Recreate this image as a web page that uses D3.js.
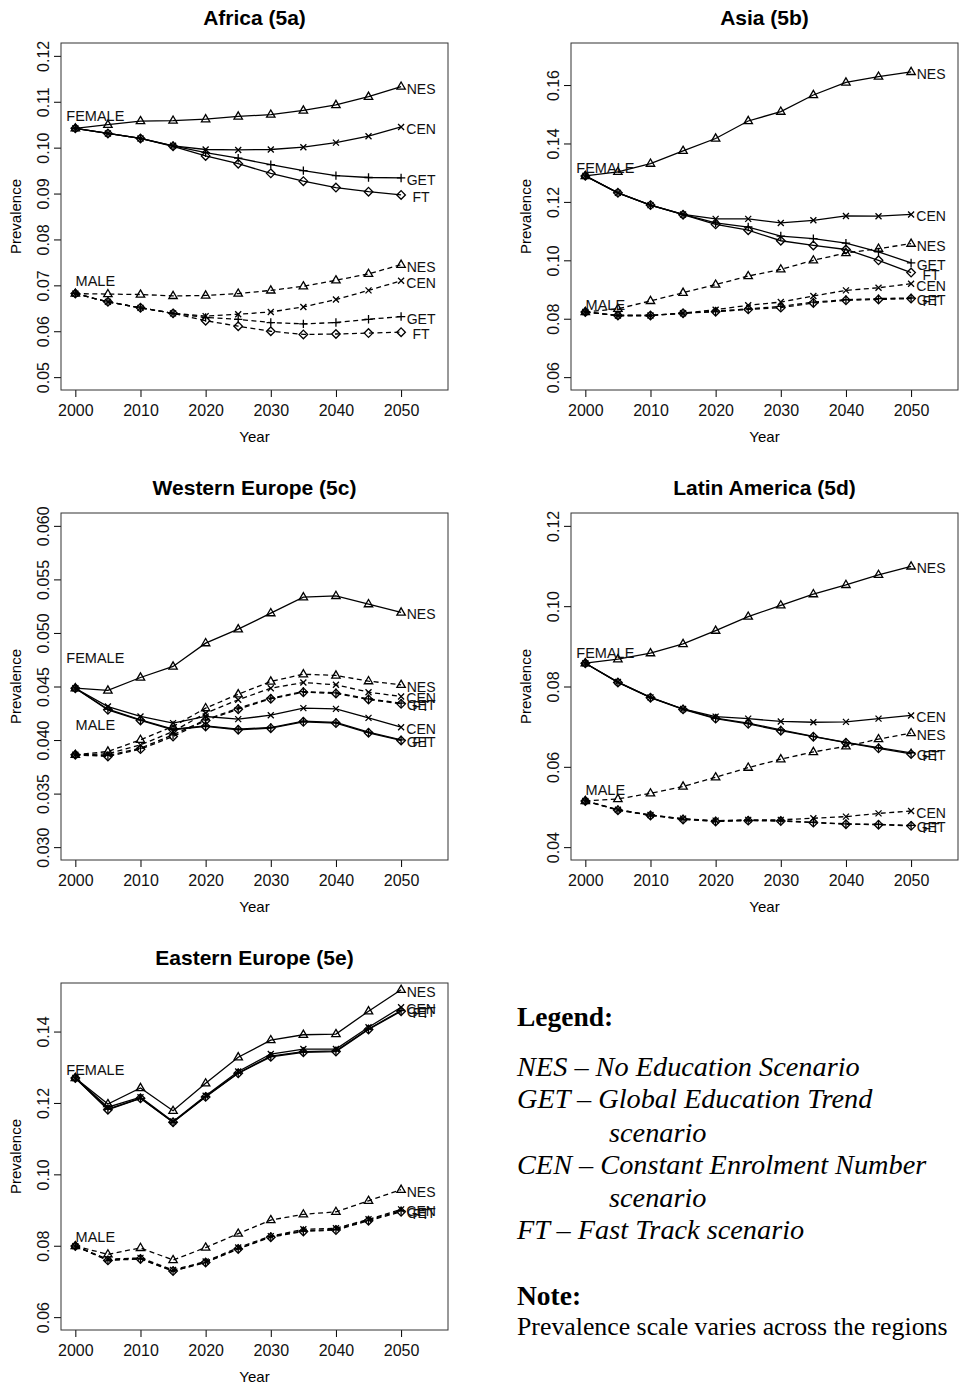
<!DOCTYPE html>
<html>
<head>
<meta charset="utf-8">
<script src="https://cdn.jsdelivr.net/npm/d3@7"></script>
<style>
  body { margin: 0; background: #fff; }
  svg { display: block; }
</style>
</head>
<body>
<div id="chart"></div>
<script>
// years and scenario order (NES, CEN, GET, FT)
const years = [2000, 2005, 2010, 2015, 2020, 2025, 2030, 2035, 2040, 2045, 2050];
const scenarios = ["NES", "CEN", "GET", "FT"];
const xTicks = [2000, 2010, 2020, 2030, 2040, 2050];

// Africa (5a)
const africaFemale = [
  [0.1042, 0.1050, 0.1058, 0.1059, 0.1062, 0.1068, 0.1072, 0.1081, 0.1093, 0.1111, 0.1133],
  [0.1042, 0.1031, 0.1020, 0.1004, 0.0996, 0.0995, 0.0996, 0.1001, 0.1011, 0.1025, 0.1045],
  [0.1042, 0.1031, 0.1020, 0.1004, 0.0989, 0.0977, 0.0963, 0.0950, 0.0939, 0.0935, 0.0934],
  [0.1042, 0.1031, 0.1020, 0.1003, 0.0982, 0.0965, 0.0944, 0.0927, 0.0913, 0.0904, 0.0897]
];
const africaMale = [
  [0.0682, 0.0681, 0.0680, 0.0677, 0.0678, 0.0682, 0.0689, 0.0698, 0.0711, 0.0725, 0.0745],
  [0.0682, 0.0664, 0.0651, 0.0639, 0.0633, 0.0637, 0.0642, 0.0653, 0.0669, 0.0689, 0.0710],
  [0.0682, 0.0664, 0.0651, 0.0639, 0.0630, 0.0626, 0.0619, 0.0616, 0.0619, 0.0626, 0.0632],
  [0.0682, 0.0664, 0.0651, 0.0639, 0.0623, 0.0611, 0.0600, 0.0593, 0.0594, 0.0596, 0.0598]
];
const africaTicks = [0.05, 0.06, 0.07, 0.08, 0.09, 0.10, 0.11, 0.12];
const africaLim = [0.05, 0.12];
const africaTags = [0.1069, 0.0709];

// Asia (5b)
const asiaFemale = [
  [0.1289, 0.1303, 0.1331, 0.1375, 0.1417, 0.1477, 0.1509, 0.1566, 0.1609, 0.1629, 0.1645],
  [0.1289, 0.1231, 0.1189, 0.1157, 0.1142, 0.1142, 0.1128, 0.1137, 0.1152, 0.1151, 0.1157],
  [0.1289, 0.1231, 0.1189, 0.1157, 0.1128, 0.1114, 0.1083, 0.1074, 0.1059, 0.1029, 0.0991],
  [0.1289, 0.1231, 0.1189, 0.1156, 0.1123, 0.1103, 0.1067, 0.1051, 0.1037, 0.1000, 0.0958]
];
const asiaMale = [
  [0.0823, 0.0834, 0.0861, 0.0889, 0.0917, 0.0946, 0.0969, 0.1000, 0.1025, 0.1040, 0.1057],
  [0.0823, 0.0811, 0.0811, 0.0819, 0.0831, 0.0846, 0.0857, 0.0878, 0.0897, 0.0906, 0.0920],
  [0.0823, 0.0811, 0.0811, 0.0819, 0.0826, 0.0834, 0.0842, 0.0857, 0.0865, 0.0869, 0.0871],
  [0.0823, 0.0811, 0.0811, 0.0819, 0.0824, 0.0832, 0.0838, 0.0854, 0.0863, 0.0866, 0.0869]
];
const asiaTicks = [0.06, 0.08, 0.10, 0.12, 0.14, 0.16];
const asiaLim = [0.06, 0.17];
const asiaTags = [0.1317, 0.0848];

// Western Europe (5c)
const westFemale = [
  [0.04484, 0.04463, 0.04584, 0.04687, 0.04905, 0.05035, 0.05185, 0.05334, 0.05346, 0.05269, 0.05191],
  [0.04484, 0.04313, 0.04220, 0.04158, 0.04220, 0.04195, 0.04232, 0.04298, 0.04291, 0.04207, 0.04120],
  [0.04484, 0.04288, 0.04189, 0.04102, 0.04133, 0.04102, 0.04117, 0.04176, 0.04164, 0.04074, 0.04002],
  [0.04484, 0.04282, 0.04183, 0.04096, 0.04127, 0.04096, 0.04111, 0.04170, 0.04158, 0.04068, 0.03996]
];
const westMale = [
  [0.03862, 0.03893, 0.04002, 0.04127, 0.04298, 0.04428, 0.04547, 0.04615, 0.04603, 0.04550, 0.04516],
  [0.03862, 0.03871, 0.03955, 0.04080, 0.04251, 0.04376, 0.04484, 0.04537, 0.04516, 0.04447, 0.04407],
  [0.03862, 0.03856, 0.03924, 0.04049, 0.04189, 0.04298, 0.04391, 0.04453, 0.04441, 0.04385, 0.04344],
  [0.03862, 0.03847, 0.03915, 0.04033, 0.04183, 0.04288, 0.04385, 0.04447, 0.04435, 0.04379, 0.04338]
];
const westTicks = [0.030, 0.035, 0.040, 0.045, 0.050, 0.055, 0.060];
const westLim = [0.03, 0.06];
const westTags = [0.0477, 0.0414];

// Latin America (5d)
const latinFemale = [
  [0.0858, 0.0868, 0.0883, 0.0906, 0.0939, 0.0974, 0.1002, 0.1030, 0.1053, 0.1078, 0.1099],
  [0.0858, 0.0811, 0.0773, 0.0744, 0.0725, 0.0720, 0.0713, 0.0711, 0.0712, 0.0720, 0.0728],
  [0.0858, 0.0811, 0.0773, 0.0744, 0.0721, 0.0709, 0.0692, 0.0676, 0.0661, 0.0648, 0.0635],
  [0.0858, 0.0810, 0.0772, 0.0743, 0.0720, 0.0707, 0.0690, 0.0675, 0.0660, 0.0646, 0.0632]
];
const latinMale = [
  [0.0515, 0.0520, 0.0534, 0.0551, 0.0574, 0.0598, 0.0619, 0.0637, 0.0651, 0.0669, 0.0684],
  [0.0515, 0.0493, 0.0480, 0.0471, 0.0466, 0.0468, 0.0468, 0.0472, 0.0476, 0.0484, 0.0490],
  [0.0515, 0.0493, 0.0480, 0.0470, 0.0465, 0.0467, 0.0466, 0.0462, 0.0458, 0.0457, 0.0454],
  [0.0515, 0.0492, 0.0479, 0.0469, 0.0464, 0.0466, 0.0465, 0.0461, 0.0457, 0.0456, 0.0453]
];
const latinTicks = [0.04, 0.06, 0.08, 0.10, 0.12];
const latinLim = [0.04, 0.12];
const latinTags = [0.0885, 0.0543];

// Eastern Europe (5e)
const eastFemale = [
  [0.1270, 0.1197, 0.1242, 0.1178, 0.1255, 0.1328, 0.1376, 0.1391, 0.1393, 0.1457, 0.1517],
  [0.1270, 0.1188, 0.1216, 0.1148, 0.1220, 0.1288, 0.1337, 0.1351, 0.1351, 0.1412, 0.1468],
  [0.1270, 0.1183, 0.1213, 0.1146, 0.1218, 0.1284, 0.1331, 0.1344, 0.1346, 0.1407, 0.1459],
  [0.1270, 0.1181, 0.1213, 0.1146, 0.1217, 0.1283, 0.1329, 0.1342, 0.1344, 0.1406, 0.1457]
];
const eastMale = [
  [0.0799, 0.0776, 0.0794, 0.0760, 0.0795, 0.0834, 0.0872, 0.0888, 0.0895, 0.0926, 0.0957],
  [0.0799, 0.0762, 0.0766, 0.0732, 0.0756, 0.0795, 0.0827, 0.0846, 0.0849, 0.0874, 0.0902],
  [0.0799, 0.0760, 0.0764, 0.0730, 0.0754, 0.0792, 0.0826, 0.0842, 0.0846, 0.0872, 0.0898],
  [0.0799, 0.0759, 0.0763, 0.0729, 0.0753, 0.0791, 0.0824, 0.0840, 0.0844, 0.0870, 0.0895]
];
const eastTicks = [0.06, 0.08, 0.10, 0.12, 0.14];
const eastLim = [0.06, 0.15];
const eastTags = [0.1293, 0.0825];

const legendLines = [
  ["NES – No Education Scenario", 0],
  ["GET – Global Education Trend", 0],
  ["scenario", 1],
  ["CEN – Constant Enrolment Number", 0],
  ["scenario", 1],
  ["FT – Fast Track scenario", 0]
];

let width = 964;
let height = 1389;
let boxW = 387;
let boxH = 347;

let svg = d3.select("#chart").append("svg")
  .attr("width", width)
  .attr("height", height)
  .style("font-family", "'Liberation Sans', Arial, sans-serif");

let panels = [
  { title: "Africa (5a)", left: 61, top: 43, lim: africaLim, ticks: africaTicks, fmt: ".2f", female: africaFemale, male: africaMale, tags: africaTags },
  { title: "Asia (5b)", left: 571, top: 43, lim: asiaLim, ticks: asiaTicks, fmt: ".2f", female: asiaFemale, male: asiaMale, tags: asiaTags },
  { title: "Western Europe (5c)", left: 61, top: 513, lim: westLim, ticks: westTicks, fmt: ".3f", female: westFemale, male: westMale, tags: westTags },
  { title: "Latin America (5d)", left: 571, top: 513, lim: latinLim, ticks: latinTicks, fmt: ".2f", female: latinFemale, male: latinMale, tags: latinTags },
  { title: "Eastern Europe (5e)", left: 61, top: 983, lim: eastLim, ticks: eastTicks, fmt: ".2f", female: eastFemale, male: eastMale, tags: eastTags }
];

panels.forEach(drawPanel);
drawLegend();

function drawPanel(p) {
  // R style axis limits: 4% padding each side
  let xPad = (2055 - 2000) * 0.04;
  let yPad = (p.lim[1] - p.lim[0]) * 0.04;
  let x = d3.scaleLinear().domain([2000 - xPad, 2055 + xPad]).range([p.left, p.left + boxW]);
  let y = d3.scaleLinear().domain([p.lim[0] - yPad, p.lim[1] + yPad]).range([p.top + boxH, p.top]);

  let g = svg.append("g");

  //Titulo
  g.append("text")
    .attr("x", p.left + boxW / 2)
    .attr("y", p.top - 18)
    .attr("text-anchor", "middle")
    .style("font-size", "21px")
    .style("font-weight", "bold")
    .text(p.title);

  //Ejes
  let xAxis = g.append("g")
    .attr("transform", "translate(0," + (p.top + boxH) + ")")
    .call(d3.axisBottom(x).tickValues(xTicks).tickFormat(d3.format("d")).tickSize(7).tickPadding(8));
  xAxis.select(".domain").remove();
  xAxis.selectAll("text").style("font-size", "16px").attr("fill", "#111");

  let yAxis = g.append("g")
    .attr("transform", "translate(" + p.left + ",0)")
    .call(d3.axisLeft(y).tickValues(p.ticks).tickFormat(d3.format(p.fmt)).tickSize(7));
  yAxis.select(".domain").remove();
  yAxis.selectAll("text")
    .attr("x", null)
    .attr("dy", null)
    .attr("text-anchor", "middle")
    .attr("transform", "translate(-12,0) rotate(-90)")
    .style("font-size", "16px")
    .attr("fill", "#111");

  g.append("rect")
    .attr("x", p.left)
    .attr("y", p.top)
    .attr("width", boxW)
    .attr("height", boxH)
    .attr("fill", "none")
    .attr("stroke", "#333")
    .attr("stroke-width", 1);

  g.append("text")
    .attr("x", p.left + boxW / 2)
    .attr("y", p.top + boxH + 52)
    .attr("text-anchor", "middle")
    .style("font-size", "15px")
    .text("Year");

  g.append("text")
    .attr("transform", "translate(" + (p.left - 40) + "," + (p.top + boxH / 2) + ") rotate(-90)")
    .attr("text-anchor", "middle")
    .style("font-size", "15px")
    .text("Prevalence");

  //Series
  let line = d3.line()
    .x((d, i) => x(years[i]))
    .y(d => y(d));

  [[p.female, null], [p.male, "5,3.5"]].forEach(function(pair) {
    let group = pair[0];
    group.forEach(function(vals, s) {
      g.append("path")
        .attr("d", line(vals))
        .attr("fill", "none")
        .attr("stroke", "#000")
        .attr("stroke-width", 1.3)
        .attr("stroke-dasharray", pair[1]);

      g.selectAll(null)
        .data(vals)
        .enter()
        .append("path")
        .attr("transform", (d, i) => "translate(" + x(years[i]) + "," + y(d) + ")")
        .attr("d", marker(scenarios[s]))
        .attr("fill", "none")
        .attr("stroke", "#000")
        .attr("stroke-width", 1.3);

      g.append("text")
        .attr("x", x(2050) + 20)
        .attr("y", y(vals[vals.length - 1]))
        .attr("dy", "0.5em")
        .attr("text-anchor", "middle")
        .style("font-size", "14px")
        .attr("fill", "#111")
        .text(scenarios[s]);
    });
  });

  ["FEMALE", "MALE"].forEach(function(tag, i) {
    g.append("text")
      .attr("x", x(2000) + 20)
      .attr("y", y(p.tags[i]))
      .attr("dy", "0.36em")
      .attr("text-anchor", "middle")
      .style("font-size", "14.5px")
      .attr("fill", "#111")
      .text(tag);
  });
}

function marker(name) {
  if (name == "NES") {
    return "M0,-4.6L4.2,2.6L-4.2,2.6Z";
  } else if (name == "CEN") {
    return "M-3,-3L3,3M-3,3L3,-3";
  } else if (name == "GET") {
    return "M-4.2,0L4.2,0M0,-4.2L0,4.2";
  } else {
    return "M0,-4.3L4.3,0L0,4.3L-4.3,0Z";
  }
}

function drawLegend() {
  let lg = svg.append("g").style("font-family", "'Liberation Serif', 'Times New Roman', serif");

  lg.append("text")
    .attr("x", 517).attr("y", 1026)
    .style("font-size", "27.5px").style("font-weight", "bold")
    .text("Legend:");

  let baselines = [1076, 1108, 1142, 1174, 1207, 1239];
  legendLines.forEach(function(l, i) {
    lg.append("text")
      .attr("x", l[1] ? 609 : 517)
      .attr("y", baselines[i])
      .style("font-size", "28.3px")
      .style("font-style", "italic")
      .text(l[0]);
  });

  lg.append("text")
    .attr("x", 517).attr("y", 1305)
    .style("font-size", "27.5px").style("font-weight", "bold")
    .text("Note:");

  lg.append("text")
    .attr("x", 517).attr("y", 1335)
    .style("font-size", "25.8px")
    .text("Prevalence scale varies across the regions");
}
</script>
</body>
</html>
